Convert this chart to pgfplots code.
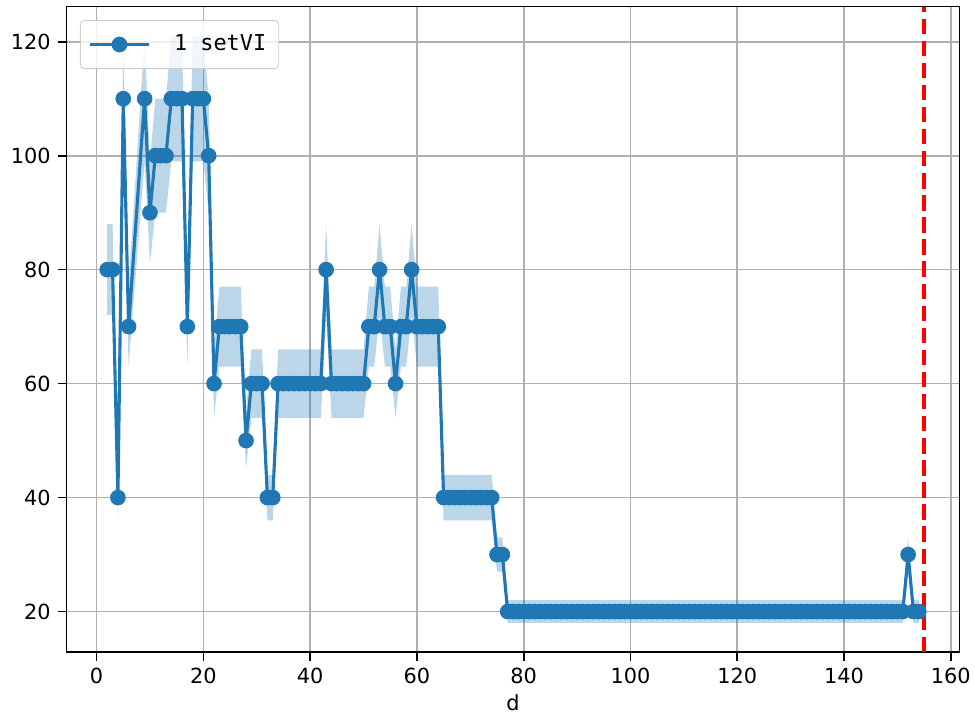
\documentclass[border=0pt]{standalone}
\usepackage{fontspec}
\setmainfont{DejaVu Sans}
\newfontfamily\monofont{DejaVu Sans Mono}
\usepackage{pgfplots}
\pgfplotsset{compat=1.18}
\usepgfplotslibrary{fillbetween}
\usepackage{pgfplotstable}
\definecolor{mplblue}{HTML}{1F77B4}
\definecolor{mplgrid}{HTML}{B0B0B0}

% x, value, lower and upper edge of the band
\pgfplotstableread{
x y lo hi
2 80 72 88
3 80 72 88
4 40 36 44
5 110 99 121
6 70 63 77
9 110 99 121
10 90 81 99
11 100 90 110
12 100 90 110
13 100 90 110
14 110 99 121
15 110 99 121
16 110 99 121
17 70 63 77
18 110 99 121
19 110 99 121
20 110 99 121
21 100 90 110
22 60 54 66
23 70 63 77
24 70 63 77
25 70 63 77
26 70 63 77
27 70 63 77
28 50 45 55
29 60 54 66
30 60 54 66
31 60 54 66
32 40 36 44
33 40 36 44
34 60 54 66
35 60 54 66
36 60 54 66
37 60 54 66
38 60 54 66
39 60 54 66
40 60 54 66
41 60 54 66
42 60 54 66
43 80 72 88
44 60 54 66
45 60 54 66
46 60 54 66
47 60 54 66
48 60 54 66
49 60 54 66
50 60 54 66
51 70 63 77
52 70 63 77
53 80 72 88
54 70 63 77
55 70 63 77
56 60 54 66
57 70 63 77
58 70 63 77
59 80 72 88
60 70 63 77
61 70 63 77
62 70 63 77
63 70 63 77
64 70 63 77
65 40 36 44
66 40 36 44
67 40 36 44
68 40 36 44
69 40 36 44
70 40 36 44
71 40 36 44
72 40 36 44
73 40 36 44
74 40 36 44
75 30 27 33
76 30 27 33
77 20 18 22
78 20 18 22
79 20 18 22
80 20 18 22
81 20 18 22
82 20 18 22
83 20 18 22
84 20 18 22
85 20 18 22
86 20 18 22
87 20 18 22
88 20 18 22
89 20 18 22
90 20 18 22
91 20 18 22
92 20 18 22
93 20 18 22
94 20 18 22
95 20 18 22
96 20 18 22
97 20 18 22
98 20 18 22
99 20 18 22
100 20 18 22
101 20 18 22
102 20 18 22
103 20 18 22
104 20 18 22
105 20 18 22
106 20 18 22
107 20 18 22
108 20 18 22
109 20 18 22
110 20 18 22
111 20 18 22
112 20 18 22
113 20 18 22
114 20 18 22
115 20 18 22
116 20 18 22
117 20 18 22
118 20 18 22
119 20 18 22
120 20 18 22
121 20 18 22
122 20 18 22
123 20 18 22
124 20 18 22
125 20 18 22
126 20 18 22
127 20 18 22
128 20 18 22
129 20 18 22
130 20 18 22
131 20 18 22
132 20 18 22
133 20 18 22
134 20 18 22
135 20 18 22
136 20 18 22
137 20 18 22
138 20 18 22
139 20 18 22
140 20 18 22
141 20 18 22
142 20 18 22
143 20 18 22
144 20 18 22
145 20 18 22
146 20 18 22
147 20 18 22
148 20 18 22
149 20 18 22
150 20 18 22
151 20 18 22
152 30 27 33
153 20 18 22
154 20 18 22
}\datatable

\begin{document}
\begin{tikzpicture}
\begin{axis}[
    scale only axis,
    width=428.5pt, height=309.9pt,
    xmin=-5.6, xmax=161.6,
    ymin=12.85, ymax=126.15,
    xtick={0,20,...,160},
    ytick={20,40,...,120},
    tick align=outside,
    tick pos=left,
    major tick length=4.2pt,
    every tick/.style={black, line width=0.8pt},
    axis line style={line width=0.8pt},
    grid=major,
    major grid style={mplgrid, line width=0.8pt},
    ticklabel style={font=\fontsize{10}{12}\selectfont},
    /pgf/number format/assume math mode=true,
    xlabel={d},
    xlabel style={font=\fontsize{10}{12}\selectfont, yshift=2pt},
    legend style={at={(0,1)}, anchor=north west, xshift=6.4pt, yshift=-6.4pt,
        draw=black!20, rounded corners=2pt, fill=white, fill opacity=0.8,
        text opacity=1, inner xsep=4pt, inner ysep=5pt,
        font=\fontsize{10.5}{12}\selectfont},
    legend cell align=left,
    legend image code/.code={
        \draw[mark repeat=2, mark phase=2, fill opacity=1, draw opacity=1, #1]
            plot coordinates {(0pt,0pt) (14pt,0pt) (28pt,0pt)};
    },
]
\addplot[draw=none, name path=upper, forget plot] table[x=x, y=hi] {\datatable};
\addplot[draw=none, name path=lower, forget plot] table[x=x, y=lo] {\datatable};
\addplot[mplblue, fill opacity=0.3, draw=none, forget plot] fill between[of=upper and lower];
\addplot[mplblue, line width=1.5pt, mark=*, mark size=3pt,
    mark options={solid, fill=mplblue, draw=mplblue}] table[x=x, y=y] {\datatable};
\addlegendentry{{\monofont\hspace{0.9em}1 setVI}}
\addplot[red, line width=2pt, dash pattern=on 7.4pt off 3.2pt, forget plot]
    coordinates {(155,12.85) (155,126.15)};
\end{axis}
\pgfresetboundingbox
\path ([shift={(-32pt,-34.9pt)}]current axis.south west)
    rectangle ([shift={(7.5pt,3.2pt)}]current axis.north east);
\end{tikzpicture}
\end{document}
